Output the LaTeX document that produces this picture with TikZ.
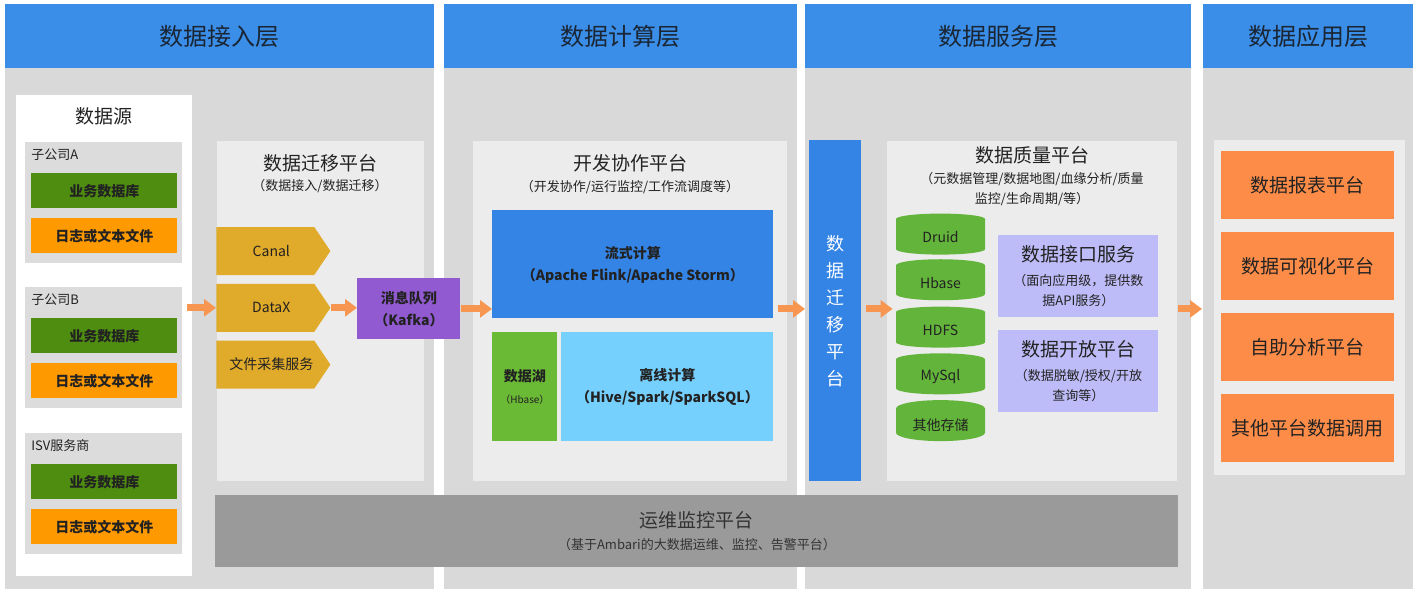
\documentclass[tikz,border=0pt]{standalone}
\usepackage{fontspec}
\setmainfont{Noto Sans CJK SC}
\usepackage{tikz}
\usetikzlibrary{arrows.meta,positioning,shapes.geometric,shapes.symbols}
\usepackage{xcolor}
\definecolor{headblue}{RGB}{58,142,232}
\definecolor{headtext}{RGB}{26,38,52}
\definecolor{bodygray}{RGB}{217,217,217}
\definecolor{panelgray}{RGB}{236,236,236}
\definecolor{compgray}{RGB}{220,220,220}
\definecolor{dbgreen}{RGB}{78,141,16}
\definecolor{logorange}{RGB}{255,153,0}
\definecolor{taggold}{RGB}{224,170,42}
\definecolor{kafkapurple}{RGB}{145,90,208}
\definecolor{streamblue}{RGB}{52,132,230}
\definecolor{lakegreen}{RGB}{106,186,53}
\definecolor{offblue}{RGB}{118,208,253}
\definecolor{cylgreen}{RGB}{99,180,58}
\definecolor{lavender}{RGB}{190,188,248}
\definecolor{apporange}{RGB}{253,140,72}
\definecolor{arroworange}{RGB}{247,150,80}
\definecolor{opsgray}{RGB}{154,154,154}
\definecolor{txt}{RGB}{34,34,34}

\begin{document}
\begin{tikzpicture}[x=0.5pt, y=-0.5pt,
  layer/.style={anchor=north west, fill=bodygray, inner sep=0pt},
  head/.style={anchor=north west, fill=headblue, text=headtext, minimum height=32pt,
               inner sep=0pt, font=\fontsize{12}{14}\selectfont},
  panel/.style={anchor=north west, fill=panelgray, inner sep=0pt},
  title/.style={text=txt, inner sep=0pt, font=\fontsize{9.5}{12}\selectfont},
  sub/.style={text=txt, inner sep=0pt, align=center, font=\fontsize{6.5}{10}\selectfont},
  lab/.style={anchor=west, text=txt, inner sep=0pt, font=\fontsize{6.5}{8}\selectfont},
  blk/.style={anchor=north west, inner sep=0pt, align=center, text=txt,
              font=\bfseries\fontsize{7}{11}\selectfont},
  card/.style={anchor=north west, inner sep=0pt, align=center, text=txt, fill=lavender,
               minimum width=80pt, minimum height=41pt, font=\fontsize{6.5}{10}\selectfont},
  tag/.style={signal, signal to=east, signal pointer angle=112, fill=taggold, text=txt,
              minimum width=57pt, minimum height=24pt, inner sep=0pt,
              execute at begin node=\hspace*{6pt},
              font=\fontsize{7}{9}\selectfont},
  store/.style={cylinder, shape border rotate=90, aspect=0.3, fill=cylgreen, text=txt,
                minimum width=44.5pt, minimum height=20.5pt, inner sep=0pt,
                font=\fontsize{7}{9}\selectfont},
  appbox/.style={anchor=north west, fill=apporange, text=txt, minimum width=86.5pt,
                 minimum height=34pt, inner sep=0pt, font=\fontsize{9.5}{12}\selectfont},
  flow/.style={-{Triangle[length=6pt,width=8.5pt]}, line width=3.5pt, draw=arroworange},
  node distance=4pt]

\useasboundingbox (0,0) rectangle (1416,594);

\foreach \xa/\xb/\lay/\i in {5/434/数据接入层/1, 444/797/数据计算层/2,
                             805/1191/数据服务层/3, 1203/1413/数据应用层/4}{
  \pgfmathsetmacro\w{(\xb-\xa)/2}
  \node[layer, minimum width=\w pt, minimum height=292.5pt] (col\i) at (\xa,4) {};
  \node[head, minimum width=\w pt] (head\i) at (\xa,4) {\lay};
}

% data sources
\node[panel, fill=white, minimum width=88pt, minimum height=240.5pt] (src) at (16,95) {};
\node[title] (srct) at (104,116) {数据源};
\foreach \t/\lab/\i in {142/子公司A/a, 287/子公司B/b, 433/ISV服务商/c}{
  \node[panel, fill=compgray, minimum width=78.5pt, minimum height=60.5pt] (co\i) at (25,\t) {};
  \node[lab] (l\i) at (31,{\t+13}) {\lab};
  \node[blk, fill=dbgreen, minimum width=73pt, minimum height=17.5pt] (db\i) at (31,{\t+31}) {业务数据库};
  \node[blk, fill=logorange, minimum width=73pt, minimum height=17.5pt] (log\i) at (31,{\t+76}) {日志或文本文件};
}

% migration
\node[panel, minimum width=103.5pt, minimum height=170pt] (mig) at (217,141) {};
\node[title] (migt) at (320,163) {数据迁移平台};
\node[sub] (migs) at (320,186) {（数据接入/数据迁移）};
\node[tag, anchor=west] (canal) at (216,251) {Canal};
\node[tag, below=of canal] (datax) {DataX};
\node[tag, below=of datax] (files) {文件采集服务};
\node[blk, fill=kafkapurple, minimum width=51.5pt, minimum height=30.5pt] (kafka) at (357,278) {消息队列\\（Kafka）};

% compute
\node[panel, minimum width=157pt, minimum height=170pt] (dev) at (473,141) {};
\node[title] (devt) at (630,163) {开发协作平台};
\node[sub] (devs) at (630,187) {（开发协作/运行监控/工作流调度等）};
\node[blk, fill=streamblue, minimum width=140.5pt, minimum height=54pt] (stream) at (492,210) {流式计算\\（Apache Flink/Apache Storm）};
\node[blk, fill=lakegreen, minimum width=32.5pt, minimum height=54.5pt] (lake) at (492,332) {数据湖\\{\mdseries\fontsize{5}{8}\selectfont（Hbase）}};
\node[blk, fill=offblue, minimum width=106pt, minimum height=54.5pt] (offline) at (561,332) {离线计算\\（Hive/Spark/SparkSQL）};

% service
\node[blk, fill=streamblue, text=white, font=\fontsize{9}{13.5}\selectfont,
      minimum width=26pt, minimum height=170.5pt] (migbar) at (809,140) {数\\据\\迁\\移\\平\\台};
\node[panel, minimum width=145pt, minimum height=170pt] (quality) at (887,141) {};
\node[title] (qt) at (1032,155) {数据质量平台};
\node[sub] (qs) at (1032,189) {（元数据管理/数据地图/血缘分析/质量\\监控/生命周期/等）};
\foreach \y/\lab/\i in {237/Druid/druid, 283/Hbase/hbase, 330/HDFS/hdfs, 377/MySql/mysql, 425/其他存储/other}
  \node[store] (\i) at (940.5,\y) {\lab};
\node[card] (iface) at (998,235) {{\fontsize{9.5}{12}\selectfont 数据接口服务}\\[2pt]（面向应用级，提供数\\据API服务）};
\node[card] (open) at (998,330) {{\fontsize{9.5}{12}\selectfont 数据开放平台}\\[2pt]（数据脱敏/授权/开放\\查询等）};

% applications
\node[panel, minimum width=95.5pt, minimum height=167.5pt] (app) at (1214,140) {};
\foreach \y/\lab/\i in {151/数据报表平台/1, 232/数据可视化平台/2, 313/自助分析平台/3, 394/其他平台数据调用/4}
  \node[appbox] (app\i) at (1221,\y) {\lab};

% operations
\node[blk, fill=opsgray, text=black!80, font=\fontsize{6.5}{10}\selectfont,
      minimum width=481.5pt, minimum height=36pt] (ops) at (215,495) {{\fontsize{9.5}{12}\selectfont 运维监控平台}\\[1pt]（基于Ambari的大数据运维、监控、告警平台）};

\draw[flow, shorten <=-3pt] (src.east |- datax) -- (datax.west);
\draw[flow] (datax.east) -- (datax.east -| kafka.west);
\draw[flow] (kafka.east) -- (kafka.east -| stream.west);
\draw[flow, shorten <=2pt, shorten >=2pt] (kafka -| stream.east) -- (kafka -| migbar.west);
\draw[flow, shorten <=2pt, shorten >=1.5pt] (kafka -| migbar.east) -- (kafka -| druid.west);
\draw[flow, shorten >=6pt] (kafka -| quality.east) -- (kafka -| app.west);
\end{tikzpicture}
\end{document}
